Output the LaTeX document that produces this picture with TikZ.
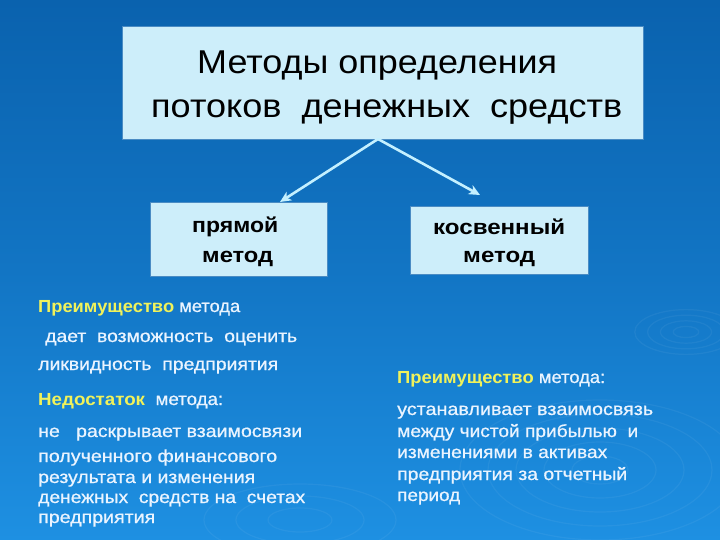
\documentclass[tikz,border=0pt]{standalone}
\usepackage{fontspec}
\usepackage{graphicx}
\setmainfont{Liberation Sans}
\newfontfamily\titlef[FakeStretch=0.86]{Liberation Sans}
\newfontfamily\bodyf[FakeBold=0.8]{Liberation Sans}
\newfontfamily\bodybf{Liberation Sans Bold}
\usetikzlibrary{arrows.meta}
\definecolor{bgtop}{HTML}{0A62AE}
\definecolor{bgmid}{HTML}{1275C4}
\definecolor{bgbot}{HTML}{1E90E2}
\definecolor{boxfill}{HTML}{CDEEFA}
\definecolor{boxline}{HTML}{4A8CC4}
\definecolor{txtc}{HTML}{EAF4FF}
\definecolor{hlc}{HTML}{F0F25A}
\definecolor{arrc}{HTML}{C4F0FF}
\newcommand{\fitw}[2]{\resizebox{#1pt}{\height}{#2}}
\newcommand{\hlw}[1]{{\bodybf\color{hlc}#1}}
\tikzset{
  box/.style={draw=boxline, line width=0.6pt, fill=boxfill, inner sep=0pt},
  ttl/.style={inner sep=0pt, anchor=base west, font=\titlef\fontsize{33}{40}\selectfont, text=black},
  lbl/.style={inner sep=0pt, anchor=base west, font=\bfseries\fontsize{21}{26}\selectfont, text=black},
  txt/.style={inner sep=0pt, anchor=base west, font=\bodyf\fontsize{17.5}{20}\selectfont, text=txtc},
  arr/.style={draw=arrc, line width=2.6pt, -{Stealth[length=11pt,width=10pt,inset=3pt]}},
  ripple/.style={draw=white, draw opacity=0.05, line width=1.2pt}
}
\begin{document}
\begin{tikzpicture}[x=1pt,y=-1pt]
\useasboundingbox (0,0) rectangle (720,540);
\shade[top color=bgtop, bottom color=bgbot, middle color=bgmid] (0,0) rectangle (720,540);
% ripples
\foreach \r in {8,16,24,32} {\draw[ripple] (686,332) ellipse ({\r*1.6} and {\r*0.7});}
\foreach \r in {20,40,60,80,100} {\draw[ripple] (600,470) ellipse ({\r*1.4} and {\r*0.7});}
\foreach \r in {20,40,60} {\draw[ripple] (300,520) ellipse ({\r*1.6} and {\r*0.6});}
% boxes
\node[box, minimum width=521pt, minimum height=113pt] (top) at (382.5,82.5) {};
\node[box, minimum width=177pt, minimum height=74pt] (left) at (238.5,239) {};
\node[box, minimum width=178pt, minimum height=68pt] (right) at (499,240) {};
% title
\node[ttl] (t1) at (197,74) {\fitw{360}{Методы определения}};
\node[ttl] (t2) at (151,118) {\fitw{471}{потоков\ \ денежных\ \ средств}};
% box labels
\node[lbl] (l1) at (192,233) {\fitw{86}{прямой}};
\node[lbl] (l2) at (202,262) {\fitw{71}{метод}};
\node[lbl] (r1) at (433,235) {\fitw{132}{косвенный}};
\node[lbl] (r2) at (463,262) {\fitw{72}{метод}};
% arrows
\coordinate (apex) at (378,139);
\coordinate (tipL) at (280,202);
\coordinate (tipR) at (480,195);
\draw[arr] (apex) -- (tipL);
\draw[arr] (apex) -- (tipR);
% left column
\node[txt] (a1) at (38,312) {\fitw{202}{\hlw{Преимущество} метода}};
\node[txt] (a2) at (45,342) {\fitw{252}{дает\ \ возможность\ \ оценить}};
\node[txt] (a3) at (38,370) {\fitw{240}{ликвидность\ \ предприятия}};
\node[txt] (a4) at (38,405) {\fitw{185}{\hlw{Недостаток}\ \ метода:}};
\node[txt] (a5) at (38,437) {\fitw{264}{не\ \ \ раскрывает взаимосвязи}};
\node[txt] (a6) at (38,462) {\fitw{239}{полученного финансового}};
\node[txt] (a7) at (38,483) {\fitw{217}{результата и изменения}};
\node[txt] (a8) at (38,503) {\fitw{267}{денежных\ \ средств на\ \ счетах}};
\node[txt] (a9) at (38,523) {\fitw{117}{предприятия}};
% right column
\node[txt] (b1) at (397,383) {\fitw{208}{\hlw{Преимущество} метода:}};
\node[txt] (b2) at (397,415) {\fitw{256}{устанавливает взаимосвязь}};
\node[txt] (b3) at (397,437) {\fitw{241}{между чистой прибылью\ \ и}};
\node[txt] (b4) at (397,458) {\fitw{210}{изменениями в активах}};
\node[txt] (b5) at (397,480) {\fitw{230}{предприятия за отчетный}};
\node[txt] (b6) at (397,501) {\fitw{63}{период}};
\end{tikzpicture}
\end{document}
